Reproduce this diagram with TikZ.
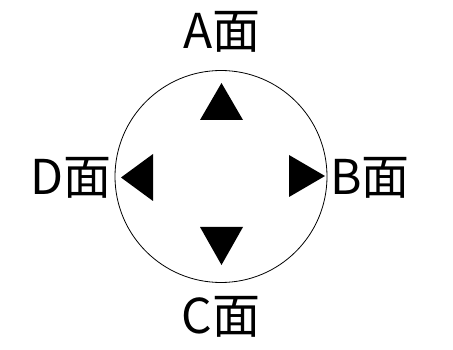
\documentclass[tikz,border=0pt]{standalone}
\usepackage{fontspec}
\setmainfont{Noto Sans CJK SC}
\begin{document}
\begin{tikzpicture}[x=1pt,y=-1pt,
  lbl/.style={font=\fontsize{48}{52}\selectfont, inner sep=0pt},
  tri/.style={fill=black, draw=none}]
\useasboundingbox (0,0) rectangle (453,350);
\node[draw, circle, minimum size=212pt, inner sep=0pt, line width=0.8pt] (c) at (221,176.5) {};
\node[lbl] (A) at (222,32) {A面};
\node[lbl] (B) at (370,178) {B面};
\node[lbl] (C) at (221,317) {C面};
\node[lbl] (D) at (71,178) {D面};
\fill[tri] (221.5,83) -- (243,120) -- (200,120) -- cycle;
\fill[tri] (221.5,265) -- (243,227) -- (200,227) -- cycle;
\fill[tri] (121,177.5) -- (153,154) -- (153,201) -- cycle;
\fill[tri] (325,176) -- (289,155) -- (289,197) -- cycle;
\end{tikzpicture}
\end{document}
